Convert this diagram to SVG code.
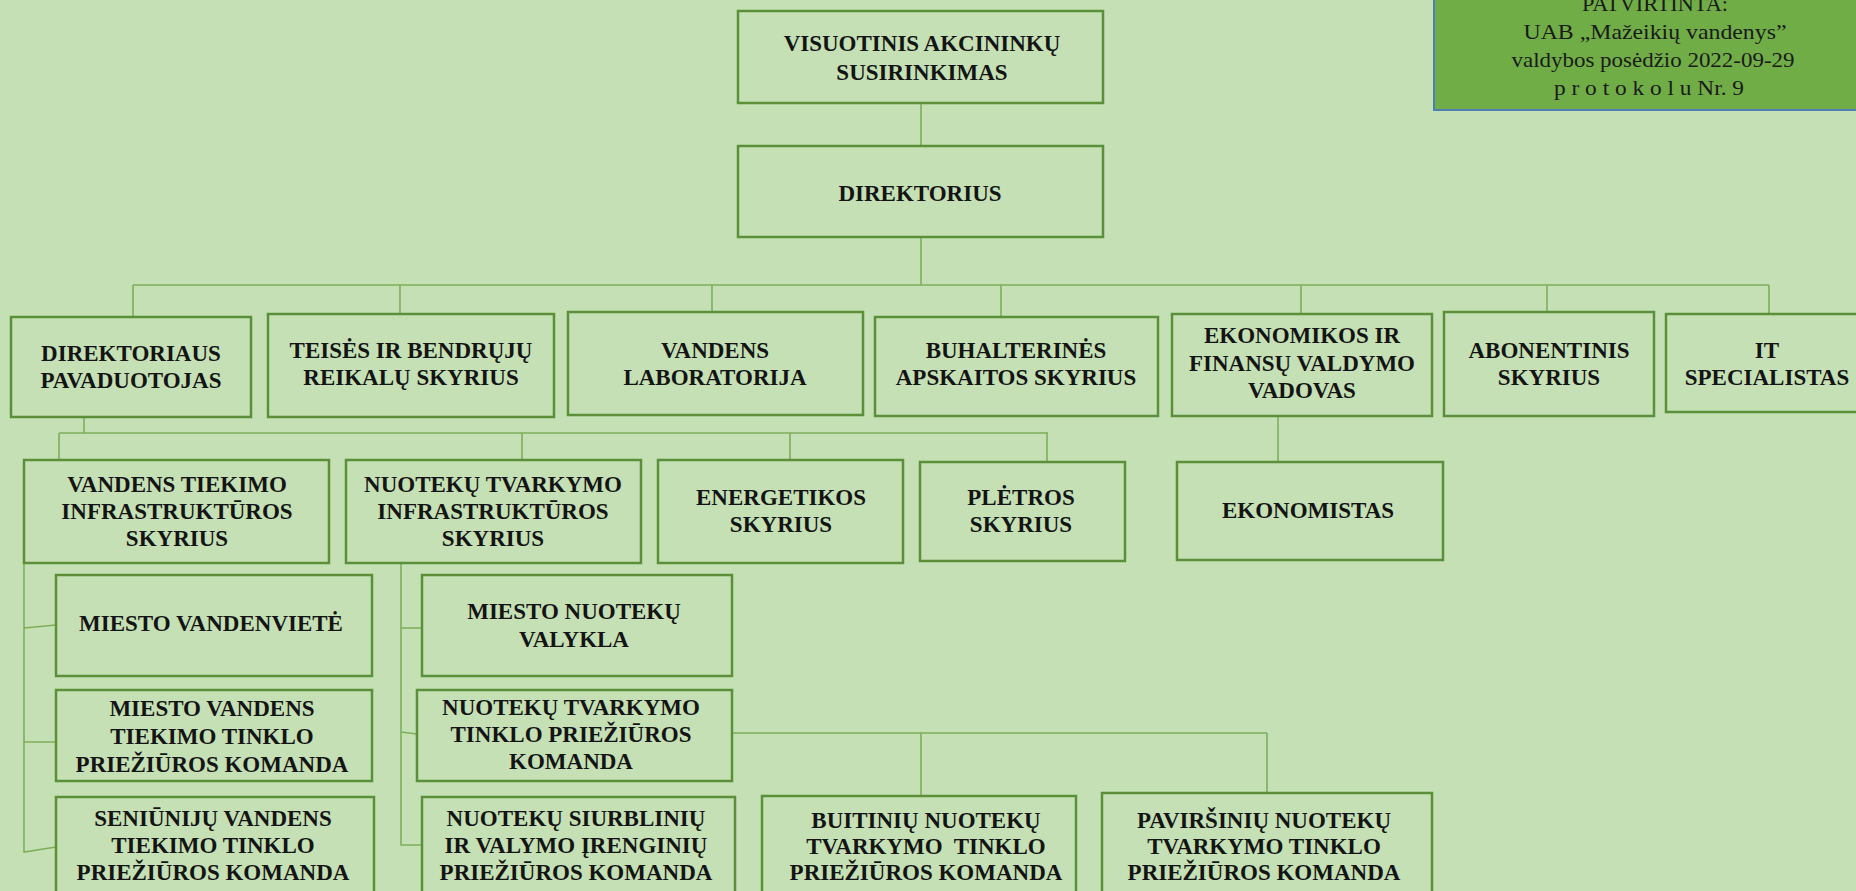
<svg xmlns="http://www.w3.org/2000/svg" width="1856" height="891" viewBox="0 0 1856 891">
<style>
.bg{fill:#C5E0B4}
.box{fill:#C5E0B4;stroke:#5B8F3A;stroke-width:2.5}
.t{font-family:"Liberation Serif","Times New Roman",serif;font-weight:bold;font-size:23px;fill:#141414;text-anchor:middle}
.c{fill:none;stroke:#7DAF5A;stroke-width:1.6}
.stamp{fill:#70AD47;stroke:#4F7FB0;stroke-width:2}
.s{font-family:"Liberation Serif","Times New Roman",serif;font-size:21px;fill:#1a1a1a;text-anchor:middle}
</style>
<rect class="bg" x="0" y="0" width="1856" height="891"/>
<g id="connectors">
<path class="c" d="M921 103V146M921 237V285M133 285H1769M133 285V317M400 285V314M712 285V312M1001 285V317M1301 285V314M1547 285V312M1769 285V314"/>
<path class="c" d="M84 417V433M59 433H1048M59 433V460M522 433V460M790 433V460M1047 433V462"/>
<path class="c" d="M1278 416V462"/>
<path class="c" d="M24 563V852L56 847M24 628L56 625M24 742H56"/>
<path class="c" d="M401 563V845H422M401 628H422M401 732L417 734"/>
<path class="c" d="M732 733H1267M921 733V796M1267 733V793"/>
</g>
<g id="stamp">
<rect class="stamp" x="1434" y="-5" width="430" height="115"/>
<text class="s" x="1655" y="11" textLength="146" lengthAdjust="spacingAndGlyphs">PATVIRTINTA:</text>
<text class="s" x="1655" y="39" textLength="263" lengthAdjust="spacingAndGlyphs">UAB „Mažeikių vandenys”</text>
<text class="s" x="1653" y="67" textLength="283" lengthAdjust="spacingAndGlyphs">valdybos posėdžio 2022-09-29</text>
<text class="s" x="1649" y="95" textLength="190" lengthAdjust="spacingAndGlyphs">p r o t o k o l u Nr. 9</text>
</g>
<g id="n-visuotinis">
<rect class="box" x="738" y="11" width="365" height="92"/>
<text class="t" x="922" y="51">VISUOTINIS AKCININKŲ</text>
<text class="t" x="922" y="80">SUSIRINKIMAS</text>
</g>
<g id="n-direktorius">
<rect class="box" x="738" y="146" width="365" height="91"/>
<text class="t" x="920" y="201">DIREKTORIUS</text>
</g>
<g id="n-pavaduotojas">
<rect class="box" x="11" y="317" width="240" height="100"/>
<text class="t" x="131" y="361">DIREKTORIAUS</text>
<text class="t" x="131" y="388">PAVADUOTOJAS</text>
</g>
<g id="n-teises">
<rect class="box" x="268" y="314" width="286" height="103"/>
<text class="t" x="411" y="358">TEISĖS IR BENDRŲJŲ</text>
<text class="t" x="411" y="385">REIKALŲ SKYRIUS</text>
</g>
<g id="n-laboratorija">
<rect class="box" x="568" y="312" width="295" height="103"/>
<text class="t" x="715" y="358">VANDENS</text>
<text class="t" x="715" y="385">LABORATORIJA</text>
</g>
<g id="n-buhalterines">
<rect class="box" x="875" y="317" width="283" height="99"/>
<text class="t" x="1016" y="358">BUHALTERINĖS</text>
<text class="t" x="1016" y="385">APSKAITOS SKYRIUS</text>
</g>
<g id="n-ekonomikos">
<rect class="box" x="1172" y="314" width="260" height="102"/>
<text class="t" x="1302" y="343">EKONOMIKOS IR</text>
<text class="t" x="1302" y="371">FINANSŲ VALDYMO</text>
<text class="t" x="1302" y="398">VADOVAS</text>
</g>
<g id="n-abonentinis">
<rect class="box" x="1444" y="312" width="210" height="104"/>
<text class="t" x="1549" y="358">ABONENTINIS</text>
<text class="t" x="1549" y="385">SKYRIUS</text>
</g>
<g id="n-it">
<rect class="box" x="1666" y="314" width="204" height="98"/>
<text class="t" x="1767" y="358">IT</text>
<text class="t" x="1767" y="385">SPECIALISTAS</text>
</g>
<g id="n-ekonomistas">
<rect class="box" x="1177" y="462" width="266" height="98"/>
<text class="t" x="1308" y="518">EKONOMISTAS</text>
</g>
<g id="n-vandens-tiekimo">
<rect class="box" x="24" y="460" width="305" height="103"/>
<text class="t" x="177" y="492">VANDENS TIEKIMO</text>
<text class="t" x="177" y="519">INFRASTRUKTŪROS</text>
<text class="t" x="177" y="546">SKYRIUS</text>
</g>
<g id="n-nuoteku-infra">
<rect class="box" x="346" y="460" width="295" height="103"/>
<text class="t" x="493" y="492">NUOTEKŲ TVARKYMO</text>
<text class="t" x="493" y="519">INFRASTRUKTŪROS</text>
<text class="t" x="493" y="546">SKYRIUS</text>
</g>
<g id="n-energetikos">
<rect class="box" x="658" y="460" width="245" height="103"/>
<text class="t" x="781" y="505">ENERGETIKOS</text>
<text class="t" x="781" y="532">SKYRIUS</text>
</g>
<g id="n-pletros">
<rect class="box" x="920" y="462" width="205" height="99"/>
<text class="t" x="1021" y="505">PLĖTROS</text>
<text class="t" x="1021" y="532">SKYRIUS</text>
</g>
<g id="n-vandenviete">
<rect class="box" x="56" y="575" width="316" height="101"/>
<text class="t" x="211" y="631">MIESTO VANDENVIETĖ</text>
</g>
<g id="n-valykla">
<rect class="box" x="422" y="575" width="310" height="101"/>
<text class="t" x="574" y="619">MIESTO NUOTEKŲ</text>
<text class="t" x="574" y="647">VALYKLA</text>
</g>
<g id="n-miesto-tinklo">
<rect class="box" x="56" y="690" width="316" height="91"/>
<text class="t" x="212" y="716">MIESTO VANDENS</text>
<text class="t" x="212" y="744">TIEKIMO TINKLO</text>
<text class="t" x="212" y="772">PRIEŽIŪROS KOMANDA</text>
</g>
<g id="n-nuoteku-tinklo">
<rect class="box" x="417" y="690" width="315" height="91"/>
<text class="t" x="571" y="715">NUOTEKŲ TVARKYMO</text>
<text class="t" x="571" y="742">TINKLO PRIEŽIŪROS</text>
<text class="t" x="571" y="769">KOMANDA</text>
</g>
<g id="n-seniuniju">
<rect class="box" x="56" y="797" width="318" height="110"/>
<text class="t" x="213" y="826">SENIŪNIJŲ VANDENS</text>
<text class="t" x="213" y="853">TIEKIMO TINKLO</text>
<text class="t" x="213" y="880">PRIEŽIŪROS KOMANDA</text>
</g>
<g id="n-siurbliniu">
<rect class="box" x="422" y="797" width="313" height="110"/>
<text class="t" x="576" y="826">NUOTEKŲ SIURBLINIŲ</text>
<text class="t" x="576" y="853">IR VALYMO ĮRENGINIŲ</text>
<text class="t" x="576" y="880">PRIEŽIŪROS KOMANDA</text>
</g>
<g id="n-buitiniu">
<rect class="box" x="762" y="796" width="314" height="110"/>
<text class="t" x="926" y="828">BUITINIŲ NUOTEKŲ</text>
<text class="t" x="926" y="854" xml:space="preserve">TVARKYMO  TINKLO</text>
<text class="t" x="926" y="880">PRIEŽIŪROS KOMANDA</text>
</g>
<g id="n-pavirsiniu">
<rect class="box" x="1102" y="793" width="330" height="113"/>
<text class="t" x="1264" y="828">PAVIRŠINIŲ NUOTEKŲ</text>
<text class="t" x="1264" y="854">TVARKYMO TINKLO</text>
<text class="t" x="1264" y="880">PRIEŽIŪROS KOMANDA</text>
</g>
</svg>
